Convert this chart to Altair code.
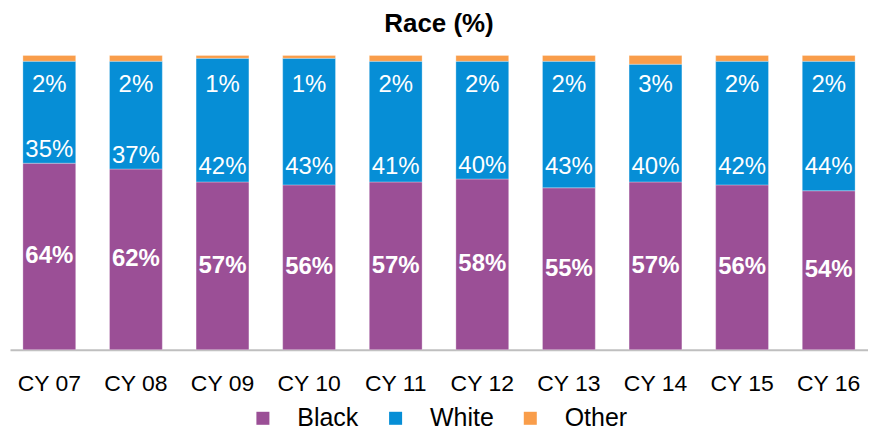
import altair as alt
import pandas as pd
import numpy as np

years = ["CY 07", "CY 08", "CY 09", "CY 10", "CY 11", "CY 12", "CY 13", "CY 14", "CY 15", "CY 16"]
black = [64, 62, 57, 56, 57, 58, 55, 57, 56, 54]
white = [35, 37, 42, 43, 41, 40, 43, 40, 42, 44]
other = [2, 2, 1, 1, 2, 2, 2, 3, 2, 2]
races = ["Black", "White", "Other"]
colors = ["#9B4F96", "#068ED6", "#F99D4A"]

rows = []
for i, yr in enumerate(years):
    for k, (r, vals) in enumerate(zip(races, [black, white, other])):
        rows.append({"year": yr, "race": r, "value": vals[i], "order": k})
df = pd.DataFrame(rows)

lab = pd.DataFrame({"year": years, "black": black, "white": white, "other": other})
lab["total"] = lab["black"] + lab["white"] + lab["other"]
lab["bfrac"] = lab["black"] / lab["total"]
lab["bmid"] = lab["bfrac"] / 2
lab["wpos"] = np.maximum(lab["bfrac"] + 0.044, 0.62)
lab["top"] = 1.0
lab["blab"] = lab["black"].astype(str) + "%"
lab["wlab"] = lab["white"].astype(str) + "%"
lab["olab"] = lab["other"].astype(str) + "%"

xenc = alt.X(
    "year:N", sort=years, title=None,
    scale=alt.Scale(paddingInner=0.39, paddingOuter=0.149),
    axis=alt.Axis(labelAngle=0, labelFontSize=23, labelColor="#000000", labelFont="Liberation Sans",
                  ticks=False, domainColor="#BFBFBF", domainWidth=2, labelPadding=23, grid=False),
)
yscale = alt.Scale(domain=[0, 1], nice=False, zero=True)

bars = alt.Chart(df).mark_bar(stroke="white", strokeWidth=0.5, strokeOpacity=0.6).encode(
    x=xenc,
    y=alt.Y("value:Q", stack="normalize", scale=yscale, axis=None),
    color=alt.Color(
        "race:N", scale=alt.Scale(domain=races, range=colors), sort=races,
        legend=alt.Legend(title=None, orient="none", direction="horizontal", legendX=241, legendY=351,
                          symbolType="square", symbolSize=170, symbolStrokeWidth=0,
                          labelFontSize=25, labelFont="Liberation Sans", labelColor="#000000",
                          labelOffset=22, columnPadding=24),
    ),
    order=alt.Order("order:Q", sort="ascending"),
)

base = alt.Chart(lab).encode(x=alt.X("year:N", sort=years))

tb = base.mark_text(color="white", fontSize=24, fontWeight="bold", font="Liberation Sans", baseline="middle").encode(
    y=alt.Y("bmid:Q", scale=yscale, axis=None), text="blab:N")
tw = base.mark_text(color="white", fontSize=24, font="Liberation Sans", baseline="middle").encode(
    y=alt.Y("wpos:Q", scale=yscale, axis=None), text="wlab:N")
to = base.mark_text(color="white", fontSize=24, font="Liberation Sans", baseline="middle", dy=30).encode(
    y=alt.Y("top:Q", scale=yscale, axis=None), text="olab:N")

chart = alt.layer(bars, tb, tw, to).properties(
    width=860, height=295,
    title=alt.TitleParams("Race (%)", fontSize=26, fontWeight="bold", font="Liberation Sans",
                          color="#000000", anchor="middle", offset=18),
    padding={"left": 2, "top": 2, "right": 0, "bottom": 0},
).configure_view(stroke=None)

chart.save("out.html", embed_options={"renderer": "svg", "actions": False})
